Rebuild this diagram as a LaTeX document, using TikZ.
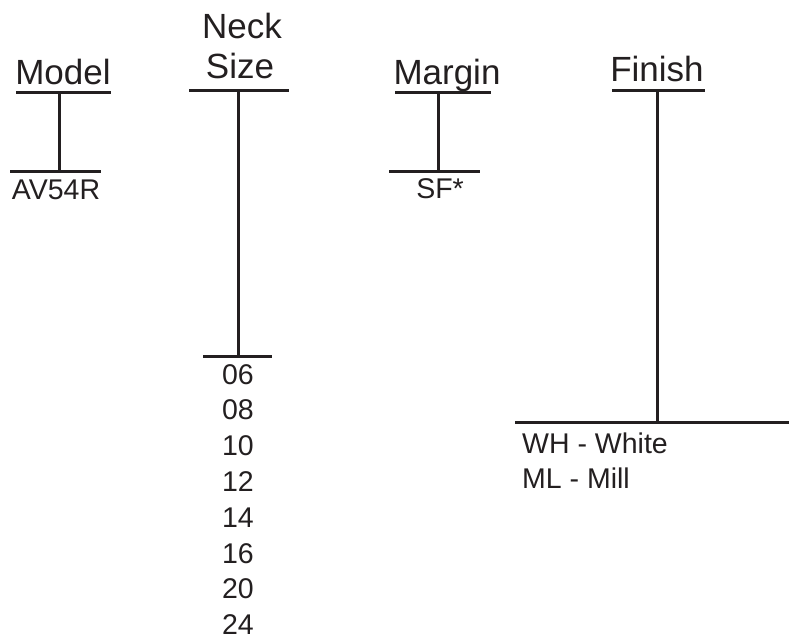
\documentclass[tikz,border=0pt]{standalone}
\usepackage{fontspec}
\setmainfont{Liberation Sans}
\definecolor{ink}{HTML}{231F20}
\begin{document}
\begin{tikzpicture}[x=1pt,y=-1pt,
  bar/.style={draw=ink,line width=3pt},
  title/.style={anchor=base,inner sep=0pt,text=ink,font=\fontsize{35}{40}\selectfont},
  item/.style={anchor=base,inner sep=0pt,text=ink,font=\fontsize{28.5}{34}\selectfont},
  itemL/.style={item,anchor=base west}]
\useasboundingbox (0,0) rectangle (789,639);
% Model
\node[title] (model) at (63,85) {Model};
\coordinate (mt1) at (16,93); \coordinate (mt2) at (111,93);
\coordinate (mtc) at (59,93);
\coordinate (mb1) at (10,172); \coordinate (mb2) at (101,172);
\coordinate (mbc) at (59,172);
\draw[bar] (mt1) -- (mt2);
\draw[bar] (mb1) -- (mb2);
\draw[bar] (mtc) -- (mbc);
\node[item] (av) at (56,200) {AV54R};
% Neck Size
\node[title] (neck) at (242,39) {Neck};
\node[title] (size) at (240,79) {Size};
\coordinate (nt1) at (189,91); \coordinate (nt2) at (289,91);
\coordinate (ntc) at (238,91);
\coordinate (nb1) at (203,356); \coordinate (nb2) at (272,356);
\coordinate (nbc) at (238,356);
\draw[bar] (nt1) -- (nt2);
\draw[bar] (nb1) -- (nb2);
\draw[bar] (ntc) -- (nbc);
\foreach \v [count=\i] in {06,08,10,12,14,16,20,24}
  \node[item] (n\v) at (238,{384+35.8*(\i-1)}) {\v};
% Margin
\node[title] (margin) at (447,85) {Margin};
\coordinate (gt1) at (395,93); \coordinate (gt2) at (491,93);
\coordinate (gtc) at (438,93);
\coordinate (gb1) at (389,172); \coordinate (gb2) at (480,172);
\coordinate (gbc) at (438,172);
\draw[bar] (gt1) -- (gt2);
\draw[bar] (gb1) -- (gb2);
\draw[bar] (gtc) -- (gbc);
\node[item] (sf) at (440,198) {SF*};
% Finish
\node[title] (finish) at (657,82) {Finish};
\coordinate (ft1) at (612,91); \coordinate (ft2) at (705,91);
\coordinate (ftc) at (657,91);
\coordinate (fb1) at (515,422); \coordinate (fb2) at (789,422);
\coordinate (fbc) at (657,422);
\draw[bar] (ft1) -- (ft2);
\draw[bar] (fb1) -- (fb2);
\draw[bar] (ftc) -- (fbc);
\node[itemL] (wh) at (522,453) {WH - White};
\node[itemL] (ml) at (522,488) {ML - Mill};
\end{tikzpicture}
\end{document}
